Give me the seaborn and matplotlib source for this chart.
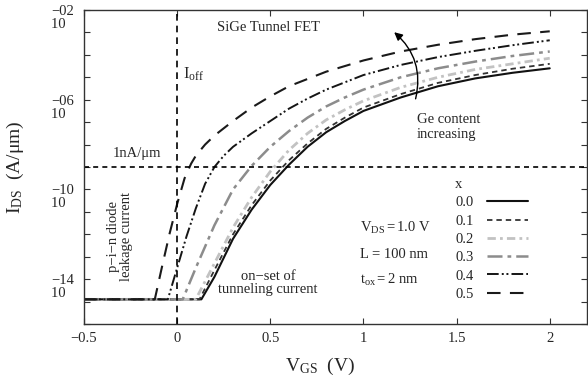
import numpy as np
import pandas as pd
import matplotlib
matplotlib.use("Agg")
import matplotlib.pyplot as plt
import matplotlib.transforms as mtransforms
import seaborn as sns

# ---------------- data (log10 of I_DS in A/um vs V_GS in V) ----------------
ge_fractions = ["0.0", "0.1", "0.2", "0.3", "0.4", "0.5"]

vgs_00 = [-0.5, 0.13, 0.2, 0.3, 0.4, 0.5, 0.6, 0.7, 0.8, 0.9, 1.0, 1.2, 1.4, 1.6, 1.8, 2.0]
log_00 = [-14.9, -14.9, -13.9, -12.2, -10.9, -9.8, -8.9, -8.1, -7.45, -6.95, -6.5, -5.9, -5.4, -5.05, -4.8, -4.6]

vgs_01 = [-0.5, 0.12, 0.2, 0.3, 0.4, 0.5, 0.6, 0.7, 0.8, 0.9, 1.0, 1.2, 1.4, 1.6, 1.8, 2.0]
log_01 = [-14.9, -14.9, -13.6, -12.0, -10.7, -9.6, -8.7, -7.95, -7.3, -6.8, -6.35, -5.75, -5.25, -4.9, -4.62, -4.4]

vgs_02 = [-0.5, 0.10, 0.2, 0.3, 0.4, 0.5, 0.6, 0.7, 0.8, 0.9, 1.0, 1.2, 1.4, 1.6, 1.8, 2.0]
log_02 = [-14.9, -14.9, -13.3, -11.7, -10.35, -9.2, -8.25, -7.5, -6.9, -6.45, -6.05, -5.45, -5.0, -4.65, -4.4, -4.15]

vgs_03 = [-0.5, 0.03, 0.1, 0.2, 0.3, 0.4, 0.5, 0.6, 0.7, 0.8, 0.9, 1.0, 1.2, 1.4, 1.6, 1.8, 2.0]
log_03 = [-14.9, -14.9, -13.5, -11.6, -10.0, -8.95, -8.1, -7.4, -6.8, -6.3, -5.9, -5.55, -5.0, -4.6, -4.3, -4.05, -3.85]

vgs_04 = [-0.5, -0.05, 0.0, 0.05, 0.1, 0.15, 0.2, 0.25, 0.3, 0.4, 0.5, 0.6, 0.7, 0.8, 1.0, 1.2, 1.4, 1.6, 1.8, 2.0]
log_04 = [-14.9, -14.9, -13.5, -12.1, -10.85, -9.75, -9.0, -8.5, -8.1, -7.5, -6.95, -6.4, -5.95, -5.55, -4.9, -4.45, -4.1, -3.82, -3.57, -3.35]

vgs_05 = [-0.5, -0.12, -0.08, -0.04, 0.0, 0.04, 0.075, 0.1, 0.15, 0.2, 0.3, 0.4, 0.5, 0.6, 0.8, 1.0, 1.2, 1.4, 1.6, 1.8, 2.0]
log_05 = [-14.9, -14.9, -13.4, -11.95, -10.65, -9.5, -8.85, -8.5, -8.0, -7.6, -6.95, -6.35, -5.85, -5.4, -4.75, -4.25, -3.85, -3.55, -3.3, -3.1, -2.95]

series_vgs = [vgs_00, vgs_01, vgs_02, vgs_03, vgs_04, vgs_05]
series_log = [log_00, log_01, log_02, log_03, log_04, log_05]

ioff_vgs = 0.0          # V
i_1na = 1e-9            # A/um
ytick_exps = [-2, -6, -10, -14]
xtick_vals = [-0.5, 0, 0.5, 1, 1.5, 2]
xtick_labels = ["\u22120.5", "0", "0.5", "1", "1.5", "2"]

# ---------------- style ----------------
sns.set_style("ticks", {"xtick.direction": "in", "ytick.direction": "in"})
plt.rcParams["font.family"] = ["Liberation Serif", "DejaVu Serif"]
plt.rcParams["mathtext.fontset"] = "custom"
plt.rcParams["mathtext.rm"] = "Liberation Serif"
plt.rcParams["mathtext.it"] = "Liberation Serif:italic"
plt.rcParams["mathtext.bf"] = "Liberation Serif:bold"

colors = ["#111111", "#333333", "#c2c2c2", "#8c8c8c", "#151515", "#1a1a1a"]
widths = [1.5, 1.3, 2.0, 1.8, 1.4, 1.5]
styles = [
    "-",
    (0, (3, 2.2)),
    (0, (3, 1.5, 1, 1.5)),
    (0, (6, 2, 1.5, 2)),
    (0, (6, 1.6, 1, 1.4, 1, 1.6)),
    (0, (6.5, 4.5)),
]

fig = plt.figure(figsize=(5.88, 3.79), dpi=100)
ax = fig.add_axes([84 / 588, 1 - 324 / 379, 503 / 588, 314 / 379])

frames = []
for lab, xs, ls in zip(ge_fractions, series_vgs, series_log):
    frames.append(pd.DataFrame({"VGS": xs, "IDS": 10.0 ** np.array(ls), "x": lab}))
df = pd.concat(frames, ignore_index=True)

for i, lab in enumerate(ge_fractions):
    sub = df[df["x"] == lab]
    sns.lineplot(data=sub, x="VGS", y="IDS", ax=ax, color=colors[i], lw=widths[i],
                 linestyle=styles[i], label=lab, sort=False, estimator=None)

ax.axvline(ioff_vgs, color="k", lw=1.2, linestyle=(0, (4, 3)))
ax.axhline(i_1na, color="k", lw=1.2, linestyle=(0, (3, 2.5)))

ax.set_yscale("log")
ax.set_xlim(-0.5, 2.2)
ax.set_ylim(1e-16, 1e-2)

ax.set_xticks(xtick_vals)
ax.set_xticklabels(xtick_labels, fontsize=10.5)
ax.set_yticks([10.0 ** e for e in range(-16, -1)])
ax.yaxis.set_minor_locator(matplotlib.ticker.NullLocator())
ax.set_yticklabels([])
ax.tick_params(axis="both", which="both", direction="in", top=True, right=True,
               length=4.5, width=0.8, color="#333333", pad=6)
for s in ax.spines.values():
    s.set_linewidth(1.0)
    s.set_color("#333333")

# y tick labels drawn as "-02 / 10"
trans = mtransforms.offset_copy(ax.get_yaxis_transform(), fig=fig, x=-4, y=-8, units="dots")
for e in ytick_exps:
    ax.text(0, 10.0 ** e, "\u2212%02d\n10    " % abs(e), transform=trans, ha="right",
            va="center", multialignment="left", fontsize=10.5, linespacing=1.0)

ax.set_xlabel(r"$\mathrm{V}_{\mathrm{GS}}$  (V)", fontsize=14)
ax.set_ylabel(r"$\mathrm{I}_{\mathrm{DS}}$" + "  (A/\u03bcm)", fontsize=14)
ax.xaxis.set_label_coords(0.47, -0.1)
ax.yaxis.set_label_coords(-0.115, 0.5)

# annotations
fs = 10.5
ax.text(0.49, 10 ** -2.76, "SiGe Tunnel FET", ha="center", va="center", fontsize=fs)
ax.text(0.03, 10 ** -4.85, r"$\mathrm{I}_{\mathrm{off}}$", ha="left", va="center", fontsize=12)
ax.text(-0.215, 10 ** -8.38, "1nA/\u03bcm", ha="center", va="center", fontsize=fs)
ax.text(-0.306, 10 ** -12.12, "p\u2212i\u2212n diode\nleakage current", ha="center", va="center",
        rotation=90, fontsize=fs, linespacing=1.0)
ax.text(0.22, 10 ** -14.17, "on\u2212set of\ntunneling current", ha="left", va="center",
        multialignment="center", fontsize=fs, linespacing=1.0)
ax.text(0.982, 10 ** -11.72, r"$\mathrm{V}_{\mathrm{DS}}\mathrm{= 1.0\ V}$", ha="left", va="center", fontsize=fs)
ax.text(0.982, 10 ** -12.92, "L = 100 nm", ha="left", va="center", fontsize=fs)
ax.text(0.982, 10 ** -14.04, r"$\mathrm{t}_{\mathrm{ox}}\mathrm{= 2\ nm}$", ha="left", va="center", fontsize=fs)
ax.text(1.288, 10 ** -7.22, "Ge content\nincreasing", ha="left", va="center", fontsize=fs,
        linespacing=1.15)
ax.annotate("", xy=(1.165, 10 ** -2.99), xytext=(1.28, 10 ** -5.96),
            arrowprops=dict(arrowstyle="-|>", connectionstyle="arc3,rad=0.3", color="k",
                            lw=1.0, mutation_scale=12, shrinkA=0, shrinkB=0))

handles, labels = ax.get_legend_handles_labels()
leg = ax.legend(handles, labels, title="x", loc="upper left", bbox_to_anchor=(0.738, 0.465),
                frameon=False, markerfirst=False, handlelength=2.8, handletextpad=0.9,
                labelspacing=0.35, fontsize=fs, title_fontsize=fs, alignment="left",
                borderaxespad=0, borderpad=0)

fig.savefig("out.png", dpi=100)
